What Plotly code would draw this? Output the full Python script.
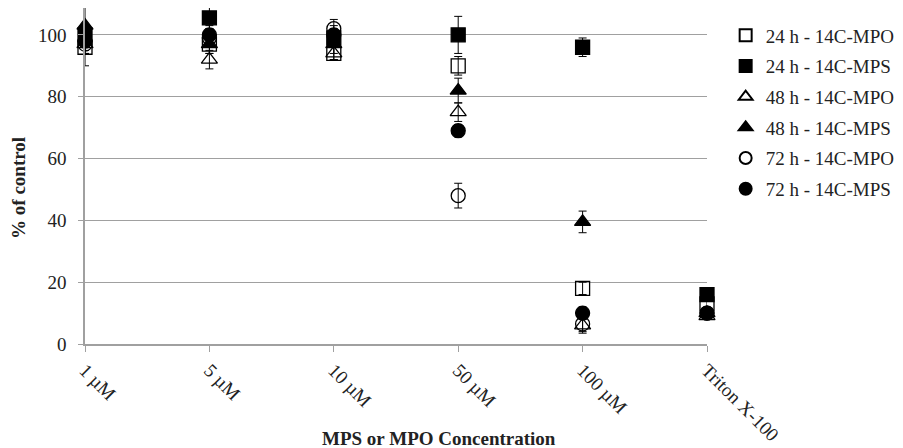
import plotly.graph_objects as go

categories = ["1 µM", "5 µM", "10 µM", "50 µM", "100 µM", "Triton X-100"]
series_names = ["24 h - 14C-MPO", "24 h - 14C-MPS", "48 h - 14C-MPO",
                "48 h - 14C-MPS", "72 h - 14C-MPO", "72 h - 14C-MPS"]

mpo_24 = [96, 97, 94, 90, 18, 13]
mpo_24_err = [6, 3, 2, 3, 2, 2]
mps_24 = [100, 105.5, 99, 100, 96, 16]
mps_24_err = [3, 3.5, 3, 6, 3, 2]
mpo_48 = [97, 92, 94, 75, 6, 9]
mpo_48_err = [3, 3, 2, 3, 2, 1]
mps_48 = [103, 97, 97, 82, 39.5, 10]
mps_48_err = [6.5, 3, 3, 4, 3.5, 1]
mpo_72 = [97, 99, 102, 48, 6.5, 10]
mpo_72_err = [3, 3, 3, 4, 3, 1]
mps_72 = [98, 100, 100, 69, 10, 10]
mps_72_err = [3, 3, 3, 2, 2, 1]

values = [mpo_24, mps_24, mpo_48, mps_48, mpo_72, mps_72]
errors = [mpo_24_err, mps_24_err, mpo_48_err, mps_48_err, mpo_72_err, mps_72_err]
symbols = ["square-open", "square", "triangle-up-open", "triangle-up",
           "circle-open", "circle"]

xpos = list(range(len(categories)))

fig = go.Figure()
for i, (name, vals, errs, sym) in enumerate(zip(series_names, values, errors, symbols)):
    fig.add_trace(go.Scatter(
        x=xpos, y=vals, mode="markers", name=name,
        legendgroup=str(i),
        marker=dict(symbol=sym, size=14, color="black",
                    line=dict(color="black", width=1.3)),
        error_y=dict(type="data", array=errs, visible=True,
                     color="black", thickness=1, width=4),
        cliponaxis=False,
    ))

font_family = "Liberation Serif"
txt_color = "#222"
fig.update_layout(
    width=895, height=440,
    margin=dict(l=77, r=196, t=0, b=104),
    plot_bgcolor="white", paper_bgcolor="white",
    font=dict(family=font_family, size=19, color=txt_color),
    showlegend=True,
    legend=dict(x=1.030, y=0.975, xanchor="left", yanchor="top",
                font=dict(family=font_family, size=19, color=txt_color),
                tracegroupgap=3, itemsizing="constant", itemwidth=30,
                bgcolor="rgba(0,0,0,0)"),
    xaxis=dict(range=[0, 5], tickmode="array", tickvals=xpos, ticktext=categories,
               tickangle=45, showgrid=False, zeroline=False,
               showline=True, linecolor="#a0a0a0", linewidth=1.5,
               ticks="outside", ticklen=6, tickcolor="#a0a0a0",
               tickfont=dict(family=font_family, size=19, color=txt_color)),
    yaxis=dict(range=[0, 108.7], tickmode="array", tickvals=[0, 20, 40, 60, 80, 100],
               showgrid=True, gridcolor="#a0a0a0", gridwidth=1.2, zeroline=False,
               showline=True, linecolor="#a0a0a0", linewidth=1.5,
               ticks="outside", ticklen=5, tickcolor="#a0a0a0",
               ticklabelstandoff=8,
               tickfont=dict(family=font_family, size=19, color=txt_color)),
    annotations=[
        dict(text="<b>MPS or MPO Concentration</b>", xref="paper", yref="paper",
             x=0.569, y=-0.282, xanchor="center", yanchor="middle", showarrow=False,
             font=dict(family=font_family, size=19, color=txt_color)),
        dict(text="<b>% of control</b>", xref="paper", yref="paper",
             x=-0.108, y=0.464, xanchor="center", yanchor="middle", showarrow=False,
             textangle=-90, font=dict(family=font_family, size=19, color=txt_color)),
    ],
)

fig.write_html("out.html")
